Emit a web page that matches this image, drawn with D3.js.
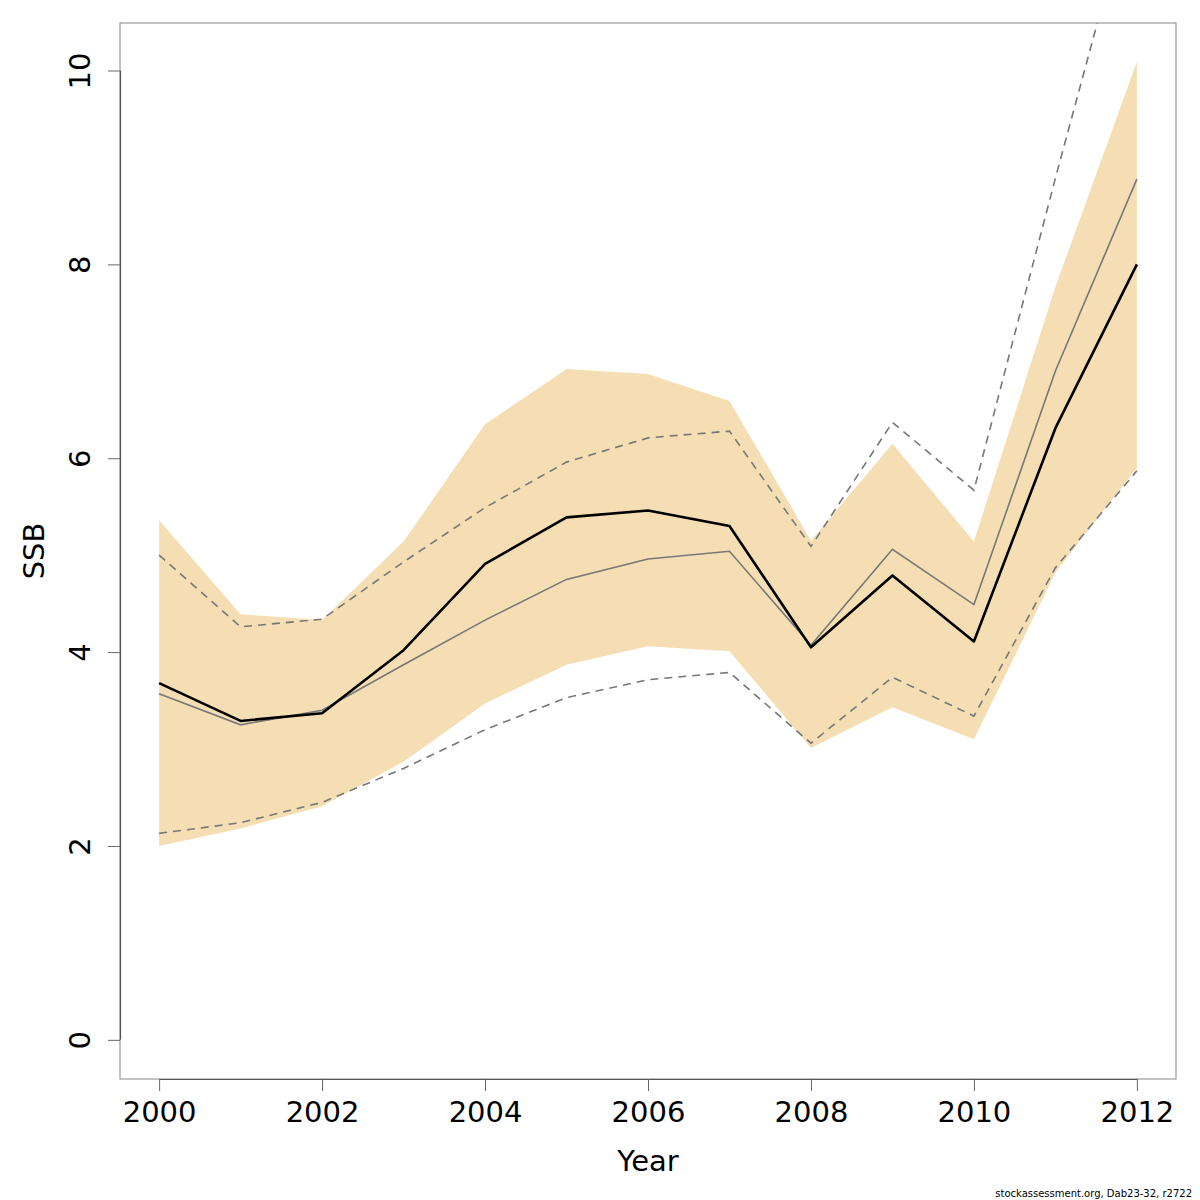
<!DOCTYPE html>
<html>
<head>
<meta charset="utf-8">
<script src="https://cdn.jsdelivr.net/npm/d3@7"></script>
<style>
  html, body { margin: 0; padding: 0; background: #fff; }
  svg { display: block; }
</style>
</head>
<body>
<script>
// ---- data ----
const years = [2000, 2001, 2002, 2003, 2004, 2005, 2006, 2007, 2008, 2009, 2010, 2011, 2012];
const ssb        = [3.68, 3.29, 3.37, 4.02, 4.91, 5.39, 5.46, 5.30, 4.05, 4.79, 4.11, 6.31, 8.00];
const bandLow    = [2.00, 2.18, 2.41, 2.87, 3.47, 3.87, 4.06, 4.01, 3.01, 3.43, 3.10, 4.82, 5.90];
const bandHigh   = [5.36, 4.39, 4.33, 5.14, 6.35, 6.92, 6.87, 6.59, 5.15, 6.15, 5.14, 7.77, 10.09];
const refLine    = [3.57, 3.25, 3.40, 3.87, 4.33, 4.75, 4.96, 5.04, 4.07, 5.06, 4.49, 6.90, 8.88];
const refLow     = [2.13, 2.24, 2.45, 2.80, 3.20, 3.53, 3.715, 3.79, 3.06, 3.74, 3.34, 4.87, 5.87];
const refHigh    = [5.00, 4.26, 4.34, 4.93, 5.49, 5.96, 6.21, 6.28, 5.09, 6.37, 5.67, 8.89, 12.0];
const xTicks = [2000, 2002, 2004, 2006, 2008, 2010, 2012];
const yTicks = [0, 2, 4, 6, 8, 10];

// ---- layout ----
const W = 1200, H = 1200;
const L = 120, R = 1176, T = 23, B = 1079;
const font = "DejaVu Sans, Liberation Sans, sans-serif";

const svg = d3.select("body").append("svg").attr("width", W).attr("height", H);

const x = d3.scaleLinear().domain([1999.52, 2012.48]).range([L, R]);
const y = d3.scaleLinear().domain([-0.404, 10.49]).range([B, T]);

svg.append("defs").append("clipPath").attr("id", "clip")
  .append("rect").attr("x", L).attr("y", T).attr("width", R - L).attr("height", B - T);

const g = svg.append("g").attr("clip-path", "url(#clip)");

const idx = d3.range(years.length);

// band
g.append("path")
  .datum(idx)
  .attr("d", d3.area().x(i => x(years[i])).y0(i => y(bandLow[i])).y1(i => y(bandHigh[i])))
  .attr("fill", "#F5DEB3");

const line = arr => d3.line().x(i => x(years[i])).y(i => y(arr[i]));

// dashed reference bounds
[refLow, refHigh].forEach(arr => {
  g.append("path").datum(idx).attr("d", line(arr))
    .attr("fill", "none").attr("stroke", "#777").attr("stroke-width", 1.6)
    .attr("stroke-dasharray", "8,6");
});

// grey reference line
g.append("path").datum(idx).attr("d", line(refLine))
  .attr("fill", "none").attr("stroke", "#777").attr("stroke-width", 1.6);

// main estimate
g.append("path").datum(idx).attr("d", line(ssb))
  .attr("fill", "none").attr("stroke", "#000").attr("stroke-width", 2.6)
  .attr("stroke-linejoin", "round");

// box
svg.append("rect").attr("x", L).attr("y", T).attr("width", R - L).attr("height", B - T)
  .attr("fill", "none").attr("stroke", "#999").attr("stroke-width", 1.2);

// x axis
const xAxis = svg.append("g").attr("transform", `translate(0,${B})`)
  .call(d3.axisBottom(x).tickValues(xTicks).tickFormat(d3.format("d")).tickSize(12).tickPadding(10));
xAxis.select(".domain").attr("d", `M${x(xTicks[0])},0.5H${x(xTicks[xTicks.length - 1])}`)
  .attr("stroke", "#555").attr("stroke-width", 1.2);
xAxis.selectAll(".tick line").attr("stroke", "#666").attr("stroke-width", 1);
xAxis.selectAll(".tick text").attr("font-family", font).attr("font-size", 29).attr("fill", "#000");

// y axis
const yAxis = svg.append("g").attr("transform", `translate(${L},0)`)
  .call(d3.axisLeft(y).tickValues(yTicks).tickFormat(d3.format("d")).tickSize(12).tickPadding(0));
yAxis.select(".domain").attr("d", `M0.5,${y(yTicks[0])}V${y(yTicks[yTicks.length - 1])}`)
  .attr("stroke", "#555").attr("stroke-width", 1.2);
yAxis.selectAll(".tick line").attr("stroke", "#666").attr("stroke-width", 1);
yAxis.selectAll(".tick text")
  .attr("font-family", font).attr("font-size", 29).attr("fill", "#000")
  .attr("x", null).attr("dy", null)
  .attr("text-anchor", "middle")
  .attr("transform", "translate(-30,0) rotate(-90)")
  .attr("y", 0);

// axis titles
svg.append("text").attr("x", (L + R) / 2).attr("y", 1171)
  .attr("text-anchor", "middle").attr("font-family", font).attr("font-size", 29)
  .text("Year");
svg.append("text").attr("transform", `translate(44,${(T + B) / 2}) rotate(-90)`)
  .attr("text-anchor", "middle").attr("font-family", font).attr("font-size", 29)
  .text("SSB");

// footer
svg.append("text").attr("x", 1192).attr("y", 1197)
  .attr("text-anchor", "end").attr("font-family", font).attr("font-size", 10)
  .text("stockassessment.org, Dab23-32, r2722");
</script>
</body>
</html>
